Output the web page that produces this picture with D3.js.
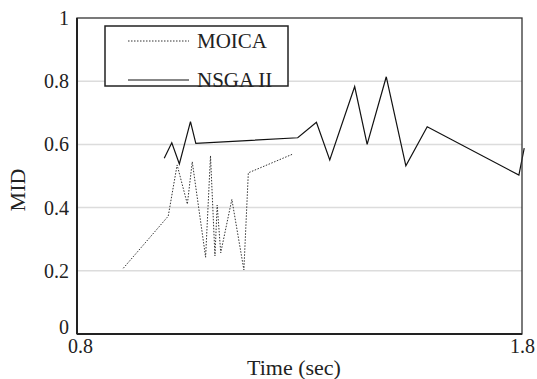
<!DOCTYPE html>
<html><head><meta charset="utf-8">
<script src="https://cdn.jsdelivr.net/npm/d3@7"></script>
<style>body{margin:0;background:#fff}svg{display:block}svg text{font-family:"Liberation Serif","Times New Roman",serif !important;fill:#222}</style>
</head><body><svg id="c" width="537" height="379"></svg>
<script>
const moicaTime = [0.904,1.005,1.025,1.048,1.059,1.089,1.100,1.110,1.115,1.123,1.148,1.175,1.185,1.286];
const moicaMID  = [0.208,0.373,0.535,0.411,0.545,0.243,0.564,0.247,0.408,0.257,0.426,0.203,0.510,0.570];
const nsgaTime = [0.996,1.013,1.030,1.055,1.067,1.296,1.338,1.368,1.424,1.452,1.495,1.539,1.587,1.793,1.805];
const nsgaMID  = [0.556,0.605,0.538,0.672,0.603,0.621,0.670,0.551,0.783,0.600,0.814,0.532,0.656,0.503,0.588];
const xTicks = [0.8,1.8];
const yTicks = [0,0.2,0.4,0.6,0.8,1];
const seriesNames = ["MOICA","NSGA II"];

const FONT = "'Liberation Serif', 'Times New Roman', serif";
const svg = d3.select("#c");
const L=77,R=522,T=18,B=334;
const x = d3.scaleLinear().domain([0.8,1.8]).range([L,R]);
const y = d3.scaleLinear().domain([0,1]).range([B,T]);

// gridlines
svg.append("g").selectAll("line").data(yTicks.filter(d=>d>0&&d<1)).join("line")
  .attr("x1",L).attr("x2",R).attr("y1",d=>y(d)).attr("y2",d=>y(d))
  .attr("stroke","#dcdcdc").attr("stroke-width",1.5);

// y axis labels
const ya = svg.append("g").attr("transform",`translate(${L-8},0)`)
  .call(d3.axisLeft(y).tickValues(yTicks).tickFormat(d=>d3.format("~g")(d)).tickSize(0).tickPadding(0));
ya.attr("font-family",null).style("font-family",FONT);
ya.select(".domain").remove();
ya.selectAll("text").attr("font-size",20).style("font-family",FONT).attr("fill","#222");
ya.selectAll(".tick").filter(d=>d===0).select("text").attr("dy","-0.05em");

// x axis labels
const xa = svg.append("g").attr("transform",`translate(0,${B})`)
  .call(d3.axisBottom(x).tickValues(xTicks).tickFormat(d3.format(".1f")).tickSize(0).tickPadding(5));
xa.attr("font-family",null).style("font-family",FONT);
xa.select(".domain").remove();
xa.selectAll("text").attr("font-size",20).style("font-family",FONT).attr("fill","#222");
xa.selectAll(".tick").filter(d=>d===0.8).select("text").attr("dx","0.15em");

// lines
const line = d3.line().x(d=>x(d[0])).y(d=>y(d[1]));
svg.append("path").datum(moicaTime.map((t,i)=>[t,moicaMID[i]])).attr("d",line)
  .attr("fill","none").attr("stroke","#333").attr("stroke-width",1).attr("stroke-dasharray","1.5,1.5");
svg.append("path").datum(nsgaTime.map((t,i)=>[t,nsgaMID[i]])).attr("d",line)
  .attr("fill","none").attr("stroke","#111").attr("stroke-width",1.2);

// frame
svg.append("rect").attr("x",L).attr("y",T).attr("width",R-L).attr("height",B-T)
  .attr("fill","none").attr("stroke","#333").attr("stroke-width",1.3);
svg.append("line").attr("x1",L).attr("x2",L).attr("y1",T).attr("y2",B).attr("stroke","#222").attr("stroke-width",2);
svg.append("line").attr("x1",L).attr("x2",R).attr("y1",B).attr("y2",B).attr("stroke","#222").attr("stroke-width",2);

// axis titles
svg.append("text").attr("x",294).attr("y",375).attr("text-anchor","middle").attr("font-size",22).style("font-family",FONT).text("Time (sec)");
svg.append("text").attr("transform","translate(25,190) rotate(-90)").attr("text-anchor","middle").attr("font-size",22).style("font-family",FONT).text("MID");

// legend
const lg = svg.append("g");
lg.append("rect").attr("x",105).attr("y",26).attr("width",183).attr("height",60)
  .attr("fill","#fff").attr("stroke","#222").attr("stroke-width",1.5);
const ly = [41,80];
lg.selectAll("line").data(seriesNames).join("line")
  .attr("x1",128).attr("x2",189).attr("y1",(d,i)=>ly[i]).attr("y2",(d,i)=>ly[i])
  .attr("stroke",(d,i)=>i?"#111":"#333").attr("stroke-width",(d,i)=>i?1.2:1)
  .attr("stroke-dasharray",(d,i)=>i?null:"1.5,1.5");
lg.selectAll("text").data(seriesNames).join("text")
  .attr("x",197).attr("y",(d,i)=>ly[i]).attr("dy","0.35em").attr("font-size",21).style("font-family",FONT).text(d=>d);
</script></body></html>
